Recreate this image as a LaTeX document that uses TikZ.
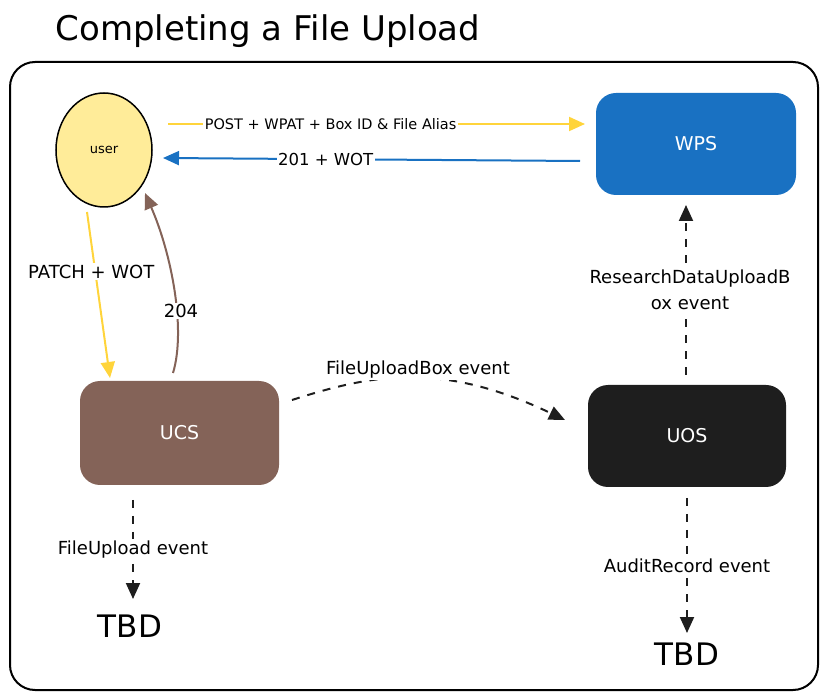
\documentclass[tikz,border=0pt]{standalone}
\usepackage{fontspec}
\setmainfont{DejaVu Sans}
\usetikzlibrary{arrows.meta,shapes.geometric}
\definecolor{cyel}{HTML}{FFD43B}
\definecolor{cuser}{HTML}{FFEC99}
\definecolor{cblue}{HTML}{1971C2}
\definecolor{cbrown}{HTML}{846358}
\definecolor{cdark}{HTML}{1E1E1E}
\tikzset{
  fs/.style={font=\fontsize{#1}{#1}\selectfont\setlength\baselineskip{1.45em}},
  box/.style={draw=none, rounded corners=20pt, text=white, fs=19, minimum width=200pt, minimum height=102pt},
  lbl/.style={fill=white, inner sep=1.5pt, fs=18},
  arr/.style={line width=2pt, -{Triangle[length=16pt,width=14pt]}},
  dsh/.style={arr, draw=cdark, dash pattern=on 8pt off 8pt},
}
\begin{document}
\begin{tikzpicture}[x=1pt,y=-1pt]
\useasboundingbox (0,0) rectangle (828,700);
\node[fs=34, anchor=center] (title) at (268,31) {Completing a File Upload};
\node[draw, line width=2pt, rounded corners=25pt, minimum width=808pt, minimum height=628pt] (frame) at (414,376) {};
% nodes
\node[ellipse, draw, line width=1.5pt, fill=cuser, minimum width=96pt, minimum height=114pt, inner sep=0pt, fs=13] (user) at (104,150) {user};
\node[box, fill=cblue] (wps) at (696,144) {WPS};
\node[box, fill=cbrown, minimum width=199pt, minimum height=104pt] (ucs) at (179.5,433) {UCS};
\node[box, fill=cdark, minimum width=198pt, minimum height=102pt] (uos) at (687,436) {UOS};
\node[fs=31] (tbd1) at (130,626) {TBD};
\node[fs=31] (tbd2) at (687,654) {TBD};
% endpoints
\coordinate (a1s) at (168,124); \coordinate (a1e) at (585,124);
\coordinate (a2s) at (580,161); \coordinate (a2e) at (163,158);
\coordinate (a3s) at (87,212); \coordinate (a3e) at (110,378);
\coordinate (a4s) at (173,373); \coordinate (a4e) at (145,193);
\coordinate (a5s) at (292,400); \coordinate (a5e) at (565,420);
\coordinate (a6s) at (686,375); \coordinate (a6e) at (686,205);
\coordinate (a7s) at (133,500); \coordinate (a7e) at (133,599);
\coordinate (a8s) at (687,498); \coordinate (a8e) at (687,633);
% connectors
\draw[arr, draw=cyel] (a1s) -- node[lbl, pos=0.39, fs=14.5] (l1) {POST + WPAT + Box ID \& File Alias} (a1e);
\draw[arr, draw=cblue] (a2s) -- node[lbl, pos=0.61, fs=16.5] (l2) {201 + WOT} (a2e);
\draw[arr, draw=cyel] (a3s) -- node[lbl, pos=0.36, xshift=-4pt] (l3) {PATCH + WOT} (a3e);
\draw[arr, draw=cbrown] (a4s) .. controls (186,330) and (172,255) .. (a4e);
\node[lbl] (l4) at (181,311) {204};
\draw[dsh] (a5s) .. controls (370,375) and (440,360) .. (a5e);
\node[lbl] (l5) at (418,370) {FileUploadBox event};
\draw[dsh] (a6s) -- node[lbl, align=center, xshift=4pt] (l6) {ResearchDataUploadB\\ox event} (a6e);
\draw[dsh] (a7s) -- node[lbl, pos=0.5] (l7) {FileUpload event} (a7e);
\draw[dsh] (a8s) -- node[lbl, pos=0.5] (l8) {AuditRecord event} (a8e);
\end{tikzpicture}
\end{document}
